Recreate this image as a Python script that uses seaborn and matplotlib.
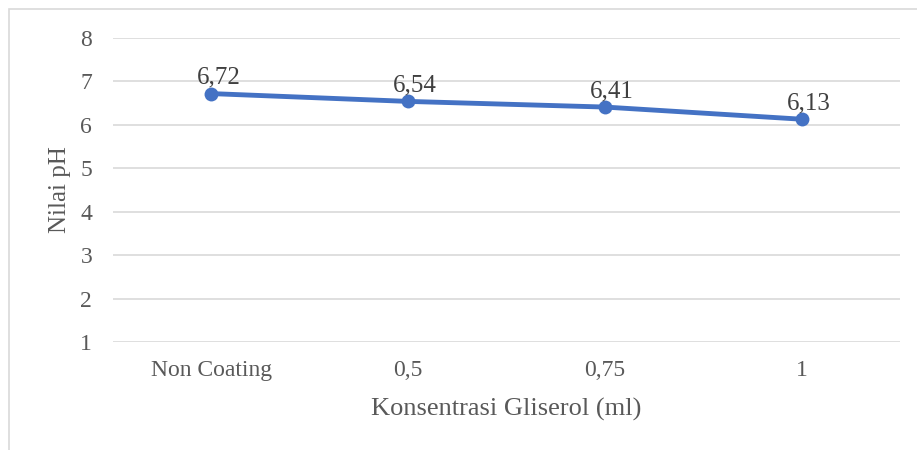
import matplotlib
matplotlib.use('Agg')
import matplotlib.pyplot as plt
import seaborn as sns
import pandas as pd
from matplotlib.patches import Rectangle

# Data
categories = ['Non Coating', '0,5', '0,75', '1']
ph_values = [6.72, 6.54, 6.41, 6.13]
value_labels = ['6,72', '6,54', '6,41', '6,13']
y_ticks = [1, 2, 3, 4, 5, 6, 7, 8]

df = pd.DataFrame({'konsentrasi': categories, 'ph': ph_values})

sns.set_theme(style='white')
plt.rcParams['font.family'] = ['Liberation Serif', 'DejaVu Serif']

fig = plt.figure(figsize=(9.17, 4.5), dpi=100)
ax = fig.add_axes([113 / 917, 108 / 450, 787 / 917, 304 / 450])

# outer chart frame
fig.patches.append(Rectangle((9 / 917, -0.01), 1.0, 1 - 9 / 450 + 0.01,
                             transform=fig.transFigure, fill=False,
                             edgecolor='#d9d9d9', linewidth=1.2))

x_pos = list(range(len(categories)))
sns.lineplot(x=x_pos, y=df['ph'], ax=ax, color='#4472C4', linewidth=3.5,
             marker='o', markersize=10, markeredgewidth=0)

for x, y, lab in zip(x_pos, ph_values, value_labels):
    ax.annotate(lab, (x, y), xytext=(7, 16), textcoords='offset pixels',
                ha='center', va='center', fontsize=18, color='#404040')

ax.set_xlim(-0.5, len(categories) - 0.5)
ax.set_ylim(1, 8)
ax.set_yticks(y_ticks)
ax.set_yticklabels([str(t) for t in y_ticks])
ax.set_xticks(x_pos)
ax.set_xticklabels(categories)
ax.yaxis.grid(True, color='#d9d9d9', linewidth=1.2)
ax.set_axisbelow(True)
for s in ax.spines.values():
    s.set_visible(False)
ax.tick_params(axis='both', length=0, labelsize=17, labelcolor='#595959')
ax.tick_params(axis='y', pad=15)
ax.tick_params(axis='x', pad=13)

ax.set_xlabel('Konsentrasi Gliserol (ml)', fontsize=19, color='#595959', labelpad=12)
ax.set_ylabel('Nilai pH', fontsize=18, color='#595959', labelpad=7)

fig.savefig('out.png', dpi=100)
